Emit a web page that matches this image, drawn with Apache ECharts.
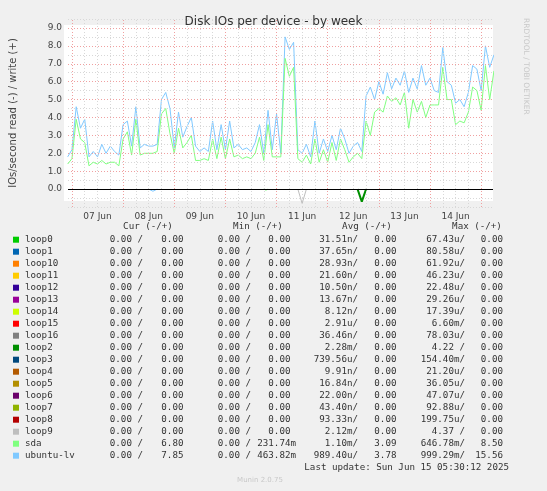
<!DOCTYPE html>
<html><head><meta charset="utf-8">
<script src="https://cdn.jsdelivr.net/npm/echarts@6/dist/echarts.min.js"></script>
<style>html,body{margin:0;background:#f0f0f0}#c{width:547px;height:491px}</style>
</head><body><div id="c"></div>
<script>
// 2-hourly samples starting 06 Jun 22:00
var start = new Date(2025, 5, 6, 22).getTime();
var step = 2 * 3600 * 1000;

var ubuntuWrite = [1.8, 2.2,
  4.6,3.4,3.9,1.8,2.1,1.8,2.5,2.0,2.4,2.1,1.9,3.6,
  3.8,2.4,4.6,2.3,2.5,2.4,2.4,2.5,5.0,5.4,4.5,2.3,
  4.3,2.9,3.5,4.0,2.4,2.1,2.3,2.1,3.8,2.2,3.6,2.2,
  3.8,2.3,2.5,2.2,2.3,2.1,2.6,3.6,2.0,4.4,2.2,4.2,
  2.0,8.5,7.8,8.2,2.2,2.0,2.5,1.8,3.8,2.0,2.8,2.1,
  3.0,2.2,3.4,2.8,2.0,2.4,2.6,2.1,5.2,5.7,5.0,6.0,
  5.3,6.5,5.6,6.2,5.8,6.6,5.4,6.2,5.6,6.9,5.8,6.2,
  5.5,5.4,7.9,6.0,5.8,4.8,5.0,4.6,5.4,6.9,6.7,5.5,
  8.0,6.8,7.5];
var sdaWrite = [1.4, 1.7,
  3.9,2.8,2.6,1.3,1.5,1.4,1.6,1.4,1.5,1.5,1.3,2.8,
  3.2,1.9,3.9,1.9,2.0,2.0,2.0,2.1,4.2,4.5,3.1,2.0,
  3.4,2.3,2.6,3.0,1.6,1.6,1.7,1.6,2.8,1.7,2.9,1.7,
  2.8,1.8,1.9,1.7,1.8,1.7,2.0,2.9,1.6,3.6,1.8,1.8,
  1.8,7.3,6.3,6.8,1.7,1.5,1.9,1.4,2.8,1.5,2.2,1.5,
  2.6,1.6,2.8,2.2,1.5,1.8,2.0,1.7,3.8,3.0,4.3,4.5,
  4.3,5.2,4.9,5.1,4.7,5.4,3.4,5.0,4.3,4.9,4.0,4.7,
  4.7,4.7,6.8,5.0,5.0,3.6,3.8,3.7,4.3,5.7,5.5,4.4,
  6.9,5.0,6.6];
// sparse read dips: [day, hour, value]
var loop9Read = [[11, 10, 0], [11, 12, -0.8], [11, 14, 0]];
var loop2Read = [[12, 14, 0], [12, 16, -0.7], [12, 18, 0]];
var ubuntuRead = [[8, 12, 0], [8, 14, -0.12], [8, 16, 0]];
var sdaRead = [[10, 18, 0], [10, 19, -0.06], [10, 20, 0]];

var names = ['loop0','loop1','loop10','loop11','loop12','loop13','loop14','loop15','loop16','loop2','loop3','loop4','loop5','loop6','loop7','loop8','loop9','sda','ubuntu-lv'];
var colors = ['#00cc00','#0066b3','#ff8000','#ffcc00','#330099','#990099','#ccff00','#ff0000','#808080','#008f00','#00487d','#b35a00','#b38f00','#6b006b','#8fb300','#b30000','#bebebe','#80ff80','#80c9ff'];
var curR = ['0.00 ','0.00 ','0.00 ','0.00 ','0.00 ','0.00 ','0.00 ','0.00 ','0.00 ','0.00 ','0.00 ','0.00 ','0.00 ','0.00 ','0.00 ','0.00 ','0.00 ','0.00 ','0.00 '];
var curW = ['0.00 ','0.00 ','0.00 ','0.00 ','0.00 ','0.00 ','0.00 ','0.00 ','0.00 ','0.00 ','0.00 ','0.00 ','0.00 ','0.00 ','0.00 ','0.00 ','0.00 ','6.80 ','7.85 '];
var minR = curR;
var minW = ['0.00 ','0.00 ','0.00 ','0.00 ','0.00 ','0.00 ','0.00 ','0.00 ','0.00 ','0.00 ','0.00 ','0.00 ','0.00 ','0.00 ','0.00 ','0.00 ','0.00 ','231.74m','463.82m'];
var avgR = ['31.51n','37.65n','28.93n','21.60n','10.50n','13.67n','8.12n','2.91u','36.46n','2.28m','739.56u','9.91n','16.84n','22.00n','43.40n','93.33n','2.12m','1.10m','989.40u'];
var avgW = ['0.00 ','0.00 ','0.00 ','0.00 ','0.00 ','0.00 ','0.00 ','0.00 ','0.00 ','0.00 ','0.00 ','0.00 ','0.00 ','0.00 ','0.00 ','0.00 ','0.00 ','3.09 ','3.78 '];
var maxR = ['67.43u','80.58u','61.92u','46.23u','22.48u','29.26u','17.39u','6.60m','78.03u','4.22 ','154.40m','21.20u','36.05u','47.07u','92.88u','199.75u','4.37 ','646.78m','999.29m'];
var maxW = ['0.00 ','0.00 ','0.00 ','0.00 ','0.00 ','0.00 ','0.00 ','0.00 ','0.00 ','0.00 ','0.00 ','0.00 ','0.00 ','0.00 ','0.00 ','0.00 ','0.00 ','8.50 ','15.56 '];

function series(arr) { return arr.map(function (v, i) { return [start + i * step, v]; }); }
function sparse(arr) { return arr.map(function (p) { return [new Date(2025, 5, p[0], p[1]).getTime(), p[2]]; }); }

var days = [], sixH = [], noons = [];
for (var d = 7; d <= 15; d++) {
  days.push({ xAxis: new Date(2025, 5, d).getTime() });
  if (d <= 14) noons.push(new Date(2025, 5, d, 12).getTime());
}
for (var d = 6; d <= 15; d++) for (var h = 6; h < 24; h += 6) {
  sixH.push({ xAxis: new Date(2025, 5, d, h).getTime() });
}
var yLines = [];
for (var k = 1; k <= 9; k++) yLines.push({ yAxis: k });

var mono = 'DejaVu Sans Mono';
var graphic = [
  { type: 'rect', z: -1, shape: { x: 64, y: 25, width: 429, height: 176 }, style: { fill: '#fff' } },
  { type: 'text', x: 530, y: 18, rotation: -Math.PI / 2, style: { text: 'RRDTOOL / TOBI OETIKER', fill: '#c8c8c8', font: '7.5px DejaVu Sans' } }
];
var heads = [['Cur (-/+)', 148], ['Min (-/+)', 258], ['Avg (-/+)', 367], ['Max (-/+)', 477]];
heads.forEach(function (h) {
  graphic.push({ type: 'text', x: h[1], y: 227, style: { text: h[0], fill: '#333', font: '9.2px ' + mono, textAlign: 'center', textVerticalAlign: 'middle' } });
});
var cols = [[curR, curW, 143, 189], [minR, minW, 251, 296], [avgR, avgW, 358, 402], [maxR, maxW, 465, 508.5]];
names.forEach(function (n, i) {
  var y = 239.7 + 12 * i;
  graphic.push({ type: 'rect', shape: { x: 13, y: y - 3, width: 6, height: 6 }, style: { fill: colors[i] } });
  graphic.push({ type: 'text', x: 25, y: y, style: { text: n, fill: '#333', font: '9.2px ' + mono, textVerticalAlign: 'middle' } });
  cols.forEach(function (c) {
    graphic.push({ type: 'text', x: c[2], y: y, style: { text: c[0][i] + '/', fill: '#333', font: '9.2px ' + mono, textAlign: 'right', textVerticalAlign: 'middle' } });
    graphic.push({ type: 'text', x: c[3], y: y, style: { text: c[1][i], fill: '#333', font: '9.2px ' + mono, textAlign: 'right', textVerticalAlign: 'middle' } });
  });
});
graphic.push({ type: 'text', x: 509, y: 467.5, style: { text: 'Last update: Sun Jun 15 05:30:12 2025', fill: '#333', font: '9.2px ' + mono, textAlign: 'right', textVerticalAlign: 'middle' } });
graphic.push({ type: 'text', x: 260, y: 480, style: { text: 'Munin 2.0.75', fill: '#c8c8c8', font: '7px DejaVu Sans', textAlign: 'center', textVerticalAlign: 'middle' } });

function ml(list, color, type) {
  return list.map(function (x) { return Object.assign({ lineStyle: { color: color, type: type, width: 1 } }, x); });
}
var myChart = echarts.init(document.getElementById('c'));
myChart.setOption({
  animation: false,
  backgroundColor: '#f0f0f0',
  title: { text: 'Disk IOs per device - by week', left: 'center', top: 11, textStyle: { fontFamily: 'DejaVu Sans', fontSize: 12, fontWeight: 'normal', color: '#333' } },
  grid: { left: 64, right: 54, top: 19, bottom: 284 },
  xAxis: {
    type: 'value',
    min: new Date(2025, 5, 6, 22, 9).getTime(),
    max: new Date(2025, 5, 15, 5, 33).getTime(),
    axisLine: { show: false }, axisTick: { show: false }, splitLine: { show: false },
    axisLabel: { customValues: noons, formatter: function (v) { return echarts.time.format(v, '{dd} {MMM}', false); }, color: '#444', fontFamily: 'DejaVu Sans', fontSize: 9, margin: 5 }
  },
  yAxis: {
    type: 'value', min: -1, max: 9.5, interval: 0.5,
    name: 'IOs/second read (-) / write (+)', nameLocation: 'middle', nameGap: 50,
    nameTextStyle: { fontFamily: 'DejaVu Sans', fontSize: 10, color: '#444' },
    axisLine: { show: false }, axisTick: { show: false },
    axisLabel: { formatter: function (v) { return (v >= 0 && v % 1 === 0) ? v.toFixed(1) : ''; }, color: '#444', fontFamily: 'DejaVu Sans', fontSize: 9, margin: 6 },
    splitLine: { lineStyle: { color: '#d8d8d8', type: [1, 2] } }
  },
  graphic: graphic,
  series: [
    { name: 'ubuntu-lv', type: 'line', data: series(ubuntuWrite), symbol: 'none', lineStyle: { width: 1, color: '#80c9ff' }, z: 3,
      markLine: { silent: true, symbol: 'none', label: { show: false },
        data: ml(days, '#f0a0a0', [1, 2]).concat(ml(sixH, '#d8d8d8', [1, 2]))
          .concat(ml(yLines, '#f0a0a0', [1, 2])).concat(ml([{ yAxis: 0 }], '#000', 'solid')) } },
    { name: 'sda', type: 'line', data: series(sdaWrite), symbol: 'none', lineStyle: { width: 1, color: '#80ff80' }, z: 4 },
    { name: 'loop9', type: 'line', data: sparse(loop9Read), symbol: 'none', lineStyle: { width: 1, color: '#bebebe' } },
    { name: 'loop2', type: 'line', data: sparse(loop2Read), symbol: 'none', lineStyle: { width: 2, color: '#008f00' } },
    { name: 'ubuntu-lv read', type: 'line', data: sparse(ubuntuRead), symbol: 'none', lineStyle: { width: 1, color: '#80c9ff' } },
    { name: 'sda read', type: 'line', data: sparse(sdaRead), symbol: 'none', lineStyle: { width: 1, color: '#80ff80' } }
  ]
});
</script>
</body></html>
